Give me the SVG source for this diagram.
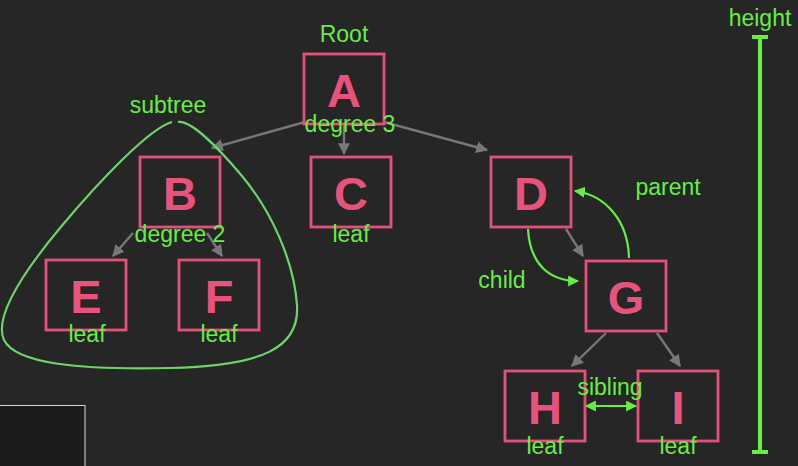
<svg xmlns="http://www.w3.org/2000/svg" width="798" height="466" viewBox="0 0 798 466">
<style>
.node rect{fill:none;stroke:#e3507a;stroke-width:2.8}
.node text.l{font-family:"Liberation Sans",Arial,sans-serif;font-weight:bold;font-size:47px;fill:#e8537d;text-anchor:middle}
.lbl{font-family:"Liberation Sans",Arial,sans-serif;font-size:23px;fill:#66ee44;text-anchor:middle}
.edge{stroke:#777;stroke-width:2.4;fill:none;marker-end:url(#ga)}
.g{stroke:#66ee44;stroke-width:2.2;fill:none}
</style>
<defs>
<marker id="ga" viewBox="0 0 10 10" refX="9" refY="5" markerWidth="5" markerHeight="5" orient="auto-start-reverse" markerUnits="strokeWidth"><path d="M0,0 L10,5 L0,10 z" fill="#777"/></marker>
<marker id="gg" viewBox="0 0 10 10" refX="9" refY="5" markerWidth="5" markerHeight="5" orient="auto-start-reverse" markerUnits="strokeWidth"><path d="M0,0 L10,5 L0,10 z" fill="#66ee44"/></marker>
</defs>
<rect width="798" height="466" fill="#262626"/>
<rect x="-1" y="405.5" width="86" height="62" fill="#1b1b1b" stroke="#d8d8d8" stroke-width="1"/>

<g id="connectors">
<path class="edge" d="M305,122 L212,148"/>
<path class="edge" d="M344,125 L344,154"/>
<path class="edge" d="M384,122 L487,150"/>
<path class="edge" d="M133,233 L113,256"/>
<path class="edge" d="M207,233 L222,256"/>
<path class="edge" d="M566,229 L583,256"/>
<path class="edge" d="M606,333 L572,366"/>
<path class="edge" d="M657,333 L680,366"/>
<path class="g" marker-end="url(#gg)" d="M528,229 C 530,265 550,281 578,281"/>
<path class="g" marker-end="url(#gg)" d="M629,258 C 628,220 605,195 575,191"/>
<path class="g" marker-start="url(#gg)" marker-end="url(#gg)" d="M586,406 L636,406"/>
<path fill="none" stroke="#6ed46a" stroke-width="2.2" d="M172,122 C 150,128 100,180 60,228 C 20,276 -6,318 4,340 C 16,364 80,370 170,368 C 262,366 300,348 297,305 C 294,262 272,212 242,176 C 216,145 190,120 178,122"/>
<path fill="none" stroke="#66ee44" stroke-width="4" d="M760,37 L760,452 M752,37 L768,37 M752,452 L768,452"/>
</g>

<g id="node-A" class="node"><rect x="304" y="54" width="80" height="70"/><text class="l" x="344" y="107">A</text></g>
<g id="node-B" class="node"><rect x="140" y="157" width="80" height="70"/><text class="l" x="180" y="210">B</text></g>
<g id="node-C" class="node"><rect x="311" y="157" width="80" height="70"/><text class="l" x="351" y="210">C</text></g>
<g id="node-D" class="node"><rect x="491" y="157" width="80" height="70"/><text class="l" x="531" y="210">D</text></g>
<g id="node-E" class="node"><rect x="46" y="260" width="80" height="70"/><text class="l" x="86" y="313">E</text></g>
<g id="node-F" class="node"><rect x="179" y="260" width="80" height="70"/><text class="l" x="219" y="313">F</text></g>
<g id="node-G" class="node"><rect x="586" y="261" width="80" height="70"/><text class="l" x="626" y="314">G</text></g>
<g id="node-H" class="node"><rect x="505" y="371" width="80" height="70"/><text class="l" x="545" y="424">H</text></g>
<g id="node-I" class="node"><rect x="638" y="371" width="80" height="70"/><text class="l" x="678" y="424">I</text></g>

<g id="labels">
<text class="lbl" x="344" y="42">Root</text>
<text class="lbl" x="350" y="132">degree 3</text>
<text class="lbl" x="351" y="242">leaf</text>
<text class="lbl" x="180" y="242">degree 2</text>
<text class="lbl" x="87" y="342">leaf</text>
<text class="lbl" x="219" y="342">leaf</text>
<text class="lbl" x="545" y="454">leaf</text>
<text class="lbl" x="678" y="454">leaf</text>
<text class="lbl" x="168" y="113">subtree</text>
<text class="lbl" x="668" y="195">parent</text>
<text class="lbl" x="502" y="288">child</text>
<text class="lbl" x="610" y="395">sibling</text>
<text class="lbl" x="760" y="26">height</text>
</g>
</svg>
